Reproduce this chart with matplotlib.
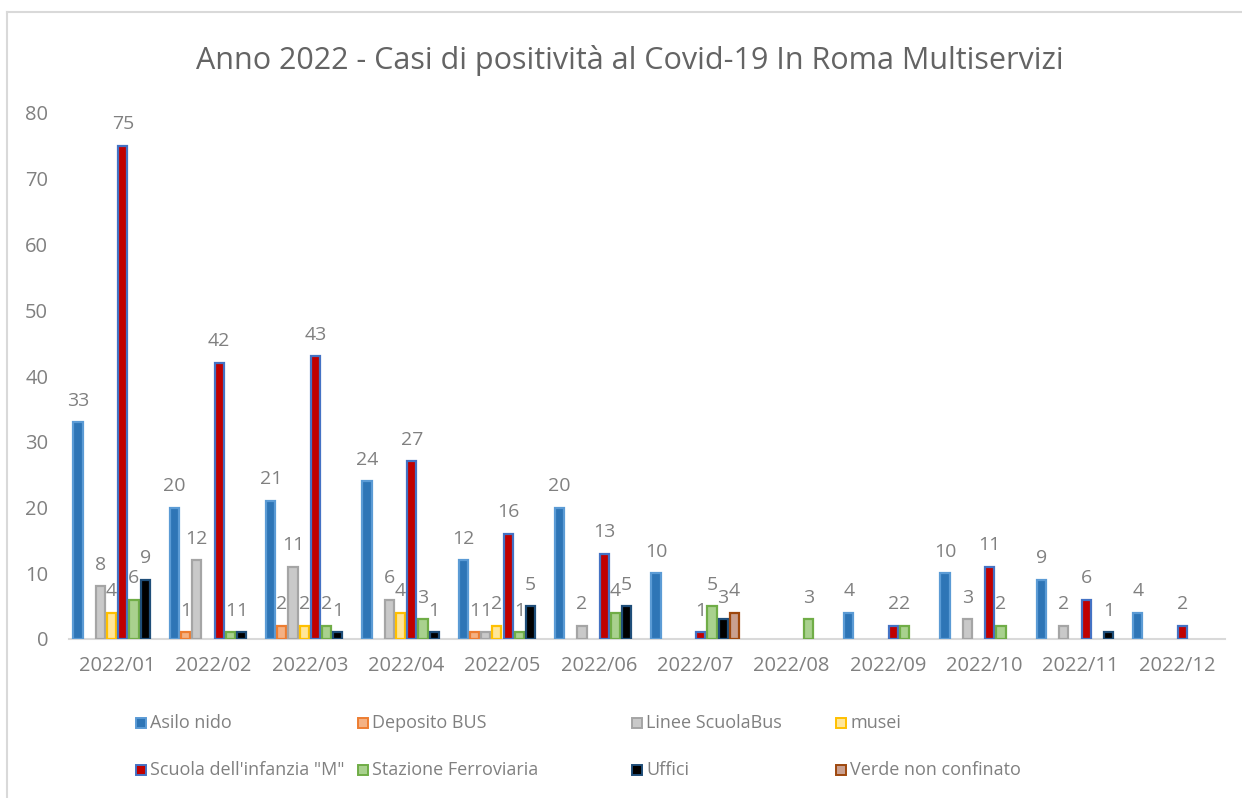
### Imports ###

import numpy as np
import matplotlib
matplotlib.use('Agg')
from matplotlib import pyplot as plt
from matplotlib.patches import Rectangle
from matplotlib.lines import Line2D

### Data ###

months = ['2022/01', '2022/02', '2022/03', '2022/04', '2022/05', '2022/06',
          '2022/07', '2022/08', '2022/09', '2022/10', '2022/11', '2022/12']

series_names = ['Asilo nido', 'Deposito BUS', 'Linee ScuolaBus', 'musei',
                'Scuola dell\'infanzia "M"', 'Stazione Ferroviaria', 'Uffici',
                'Verde non confinato']

# None = empty cell (no bar, no label)
asilo_nido = [33, 20, 21, 24, 12, 20, 10, None, 4, 10, 9, 4]
deposito_bus = [None, 1, 2, None, 1, None, None, None, None, None, None, None]
linee_scuolabus = [8, 12, 11, 6, 1, 2, None, None, None, 3, 2, None]
musei = [4, None, 2, 4, 2, None, None, None, None, None, None, None]
scuola_infanzia = [75, 42, 43, 27, 16, 13, 1, None, 2, 11, 6, 2]
stazione_ferroviaria = [6, 1, 2, 3, 1, 4, 5, 3, 2, 2, None, None]
uffici = [9, 1, 1, 1, 5, 5, 3, None, None, None, 1, None]
verde_non_confinato = [None, None, None, None, None, None, 4, None, None, None, None, None]

all_series = [asilo_nido, deposito_bus, linee_scuolabus, musei,
              scuola_infanzia, stazione_ferroviaria, uffici, verde_non_confinato]

# Excel-like fill / border colours
fills = ['#2e75b6', '#f4b183', '#c9c9c9', '#ffe699', '#c00000', '#a9d18e', '#000000', '#c9a090']
edges = ['#5b9bd5', '#ed7d31', '#a5a5a5', '#ffc000', '#4472c4', '#70ad47', '#1f4e79', '#9e480e']

TEXT_GRAY = '#808080'
TITLE_GRAY = '#646464'
FONT = 'Open Sans'

### Figure ###

W, H = 1242, 798
plt.rcParams['font.family'] = [FONT, 'DejaVu Sans']
fig = plt.figure(figsize=(W / 100, H / 100), dpi=100)

# Plot area in pixel coordinates (left, top, right, bottom)
px_left, px_top, px_right, px_bottom = 69, 113, 1225, 639
ax = fig.add_axes([px_left / W, 1 - px_bottom / H,
                   (px_right - px_left) / W, (px_bottom - px_top) / H])

x = np.arange(len(months))
slot = 0.116
bar_w = 0.095

for j, (vals, fc, ec) in enumerate(zip(all_series, fills, edges)):
    vals = np.array([np.nan if v is None else v for v in vals], dtype=float)
    pos = x + (j - 3.5) * slot
    ax.bar(pos, vals, width=bar_w, color=fc, edgecolor=ec, linewidth=1.6, zorder=3)
    # Data labels above each bar
    for xp, v in zip(pos, vals):
        if np.isnan(v):
            continue
        ax.annotate(f'{int(v)}', xy=(xp, v), xytext=(0, 9), textcoords='offset points',
                    ha='center', va='bottom', fontsize=14, color=TEXT_GRAY)

ax.set_xlim(-0.5, len(months) - 0.5)
ax.set_ylim(0, 80)
ax.set_yticks(range(0, 81, 10))
ax.set_xticks(x)
ax.set_xticklabels(months)
ax.tick_params(axis='both', length=0, labelsize=14.5, labelcolor=TEXT_GRAY)
ax.tick_params(axis='y', pad=15)
ax.tick_params(axis='x', pad=12)

for side in ['top', 'right', 'left']:
    ax.spines[side].set_visible(False)
ax.spines['bottom'].set_color('#d9d9d9')
ax.spines['bottom'].set_linewidth(1.5)
ax.set_facecolor('none')

# Title
fig.text(630 / W, 1 - 60 / H, 'Anno 2022 - Casi di positività al Covid-19 In Roma Multiservizi',
         ha='center', va='center', fontsize=22, color=TITLE_GRAY)

# Legend, laid out in two rows like the Excel one
col_x = [136, 358, 632, 836]
row_y = [723, 770]
for j, name in enumerate(series_names):
    r, c = divmod(j, 4)
    mx, my = col_x[c], row_y[r]
    fig.patches.append(Rectangle((mx / W, 1 - (my + 5) / H), 10 / W, 10 / H,
                                 transform=fig.transFigure, facecolor=fills[j],
                                 edgecolor=edges[j], linewidth=1.4))
    fig.text((mx + 14) / W, 1 - my / H, name, ha='left', va='center',
             fontsize=13, color=TEXT_GRAY)

# Chart frame (top and left edges visible in the screenshot)
fig.add_artist(Line2D([7 / W, 1], [1 - 12 / H, 1 - 12 / H], transform=fig.transFigure,
                      color='#d9d9d9', linewidth=1.5))
fig.add_artist(Line2D([7 / W, 7 / W], [1 - 12 / H, 0], transform=fig.transFigure,
                      color='#d9d9d9', linewidth=1.5))

fig.savefig('out.png', dpi=100)
